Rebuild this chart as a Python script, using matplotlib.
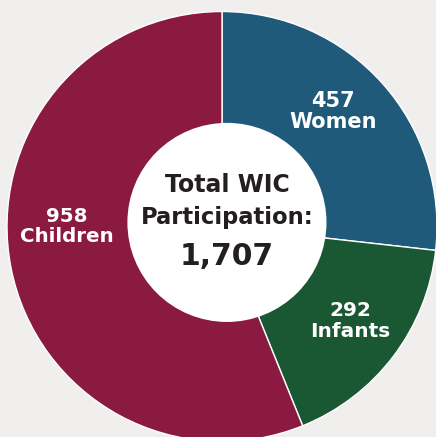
import matplotlib
matplotlib.use("Agg")
import matplotlib.pyplot as plt
from matplotlib.patches import Circle

categories = ["Women", "Infants", "Children"]
values = [457, 292, 958]
colors = ["#1f5a7b", "#1a5733", "#8b1a40"]
total_label = "1,707"

W, H = 436, 437
dpi = 100
fig = plt.figure(figsize=(W / dpi, H / dpi), dpi=dpi)
bg = "#f0efed"
fig.patch.set_facecolor(bg)
ax = fig.add_axes([0, 0, 1, 1])
ax.set_facecolor(bg)

R_px = 215.0
cx, cy = 222.0, 226.5  # pixel centre from top-left

wedges, _ = ax.pie(values, colors=colors, startangle=90, counterclock=False,
                   radius=1.0,
                   wedgeprops=dict(edgecolor="white", linewidth=1.0))
# white centre hole (slightly offset as in the original)
ax.add_patch(Circle((0.023, 0.019), 0.463, facecolor="white", edgecolor="none", zorder=3))

ax.set_xlim(-cx / R_px, (W - cx) / R_px)
ax.set_ylim(-(H - cy) / R_px, cy / R_px)
ax.set_aspect("equal")
ax.axis("off")

font = "DejaVu Sans"
dark = "#231f20"
ax.text(0.025, 0.195, "Total WIC", ha="center", va="center", fontsize=17,
        fontweight="bold", color=dark, family=font, zorder=4)
ax.text(0.025, 0.04, "Participation:", ha="center", va="center", fontsize=16.3,
        fontweight="bold", color=dark, family=font, zorder=4)
ax.text(0.02, -0.14, total_label, ha="center", va="center", fontsize=21.5,
        fontweight="bold", color=dark, family=font, zorder=4)

label_pos = {"Women": (0.515, 0.535), "Infants": (0.595, -0.44), "Children": (-0.72, 0.0)}
label_size = {"Women": 15, "Infants": 14.5, "Children": 14.3}
for cat, val in zip(categories, values):
    x, y = label_pos[cat]
    ax.text(x, y, f"{val}\n{cat}", ha="center", va="center", fontsize=label_size[cat],
            fontweight="bold", color="white", family=font, linespacing=1.08, zorder=4)

fig.savefig("out.png", dpi=dpi, facecolor=bg)
